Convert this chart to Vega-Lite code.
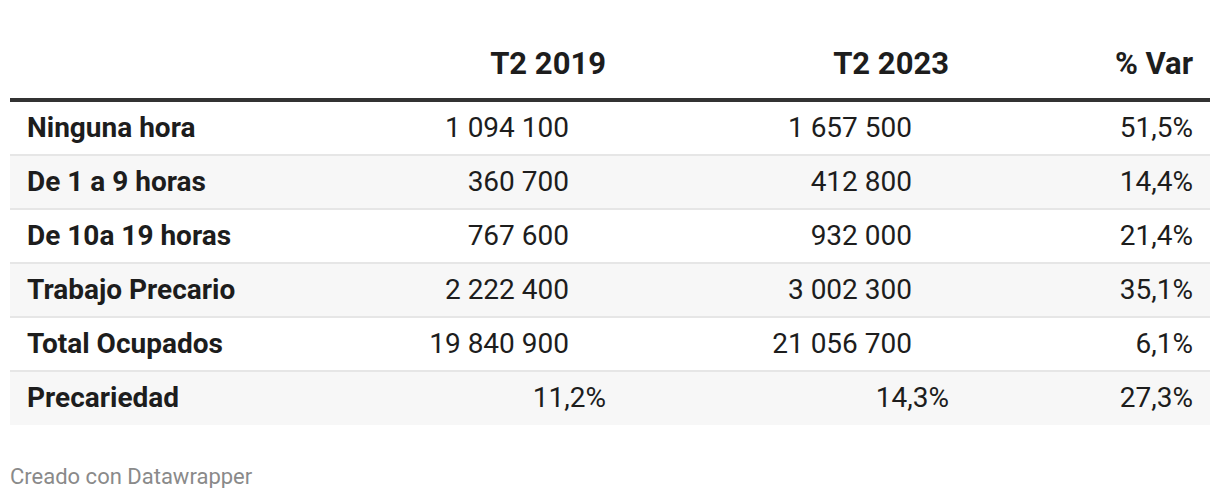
{
  "$schema": "https://vega.github.io/schema/vega-lite/v6.json",
  "width": 1200,
  "height": 425,
  "padding": {"left": 8, "right": 8, "top": 0, "bottom": 0},
  "background": "white",
  "config": {"view": {"stroke": null}, "font": "Roboto"},
  "title": {"text": "Creado con Datawrapper", "orient": "bottom", "anchor": "start", "baseline": "alphabetic", "offset": 59, "dx": 2, "fontSize": 22, "fontWeight": "normal", "color": "#8a8a8a", "font": "Roboto"},
  "datasets": {
    "table": [
      {"row": "Ninguna hora", "c2019": "1 094 100", "c2023": "1 657 500", "var": "51,5%"},
      {"row": "De 1 a 9 horas", "c2019": "360 700", "c2023": "412 800", "var": "14,4%"},
      {"row": "De 10a 19 horas", "c2019": "767 600", "c2023": "932 000", "var": "21,4%"},
      {"row": "Trabajo Precario", "c2019": "2 222 400", "c2023": "3 002 300", "var": "35,1%"},
      {"row": "Total Ocupados", "c2019": "19 840 900", "c2023": "21 056 700", "var": "6,1%"},
      {"row": "Precariedad", "c2019": "11,2%", "c2023": "14,3%", "var": "27,3%"}
    ],
    "columns": [
      {"col": "row", "idx": 0, "text": ""},
      {"col": "c2019", "idx": 1, "text": "T2 2019"},
      {"col": "c2023", "idx": 2, "text": "T2 2023"},
      {"col": "var", "idx": 3, "text": "% Var"}
    ]
  },
  "encoding": {
    "y": {"field": "row", "type": "nominal", "axis": null,
      "scale": {"domain": ["header", "Ninguna hora", "De 1 a 9 horas", "De 10a 19 horas", "Trabajo Precario", "Total Ocupados", "Precariedad"], "range": [47, 425], "paddingInner": 0, "paddingOuter": 0}}
  },
  "layer": [
    {
      "data": {"name": "table"},
      "mark": {"type": "rect"},
      "encoding": {
        "fill": {"condition": {"test": "indexof(['De 1 a 9 horas','Trabajo Precario','Precariedad'], datum.row) >= 0", "value": "#f7f7f7"}, "value": "#ffffff"}
      }
    },
    {
      "data": {"name": "table"},
      "transform": [{"filter": "datum.row != 'Ninguna hora'"}],
      "mark": {"type": "rule", "stroke": "#e6e6e6", "strokeWidth": 2, "strokeCap": "butt"},
      "encoding": {"y": {"field": "row", "type": "nominal", "bandPosition": 0}}
    },
    {
      "data": {"name": "table"},
      "transform": [{"filter": "datum.row == 'Ninguna hora'"}],
      "mark": {"type": "rule", "stroke": "#333333", "strokeWidth": 4, "strokeCap": "butt"},
      "encoding": {"y": {"field": "row", "type": "nominal", "bandPosition": 0}, "yOffset": {"value": -1}}
    },
    {
      "data": {"name": "table"},
      "transform": [
        {"fold": ["row", "c2019", "c2023", "var"], "as": ["col", "text"]},
        {"lookup": "col", "from": {"data": {"name": "columns"}, "key": "col", "fields": ["idx"]}}
      ],
      "encoding": {
        "x": {"field": "idx", "type": "quantitative", "axis": null, "scale": {"domain": [0, 1, 2, 3], "range": [17, 559, 902, 1183], "nice": false, "zero": false}},
        "text": {"field": "text"}
      },
      "layer": [
        {
          "transform": [{"filter": "datum.col == 'row'"}],
          "mark": {"type": "text", "align": "left", "fontSize": 28, "fontWeight": "bold", "color": "#1d1d1d", "font": "Roboto", "dy": 1}
        },
        {
          "transform": [{"filter": "datum.col != 'row' && !(datum.row == 'Precariedad' && datum.col != 'var')"}],
          "mark": {"type": "text", "align": "right", "fontSize": 28, "color": "#1d1d1d", "font": "Roboto", "dy": 1}
        },
        {
          "transform": [{"filter": "datum.row == 'Precariedad' && (datum.col == 'c2019' || datum.col == 'c2023')"}],
          "mark": {"type": "text", "align": "right", "fontSize": 28, "color": "#1d1d1d", "font": "Roboto", "dx": 37, "dy": 1}
        }
      ]
    },
    {
      "data": {"name": "columns"},
      "transform": [{"filter": "datum.idx > 0"}],
      "encoding": {
        "x": {"field": "idx", "type": "quantitative"},
        "y": {"datum": "header", "type": "nominal"},
        "text": {"field": "text"}
      },
      "layer": [
        {
          "transform": [{"filter": "datum.idx < 3"}],
          "mark": {"type": "text", "align": "right", "fontSize": 31, "fontWeight": "bold", "color": "#1d1d1d", "font": "Roboto", "dx": 37, "dy": -9}
        },
        {
          "transform": [{"filter": "datum.idx == 3"}],
          "mark": {"type": "text", "align": "right", "fontSize": 31, "fontWeight": "bold", "color": "#1d1d1d", "font": "Roboto", "dy": -9}
        }
      ]
    }
  ]
}
